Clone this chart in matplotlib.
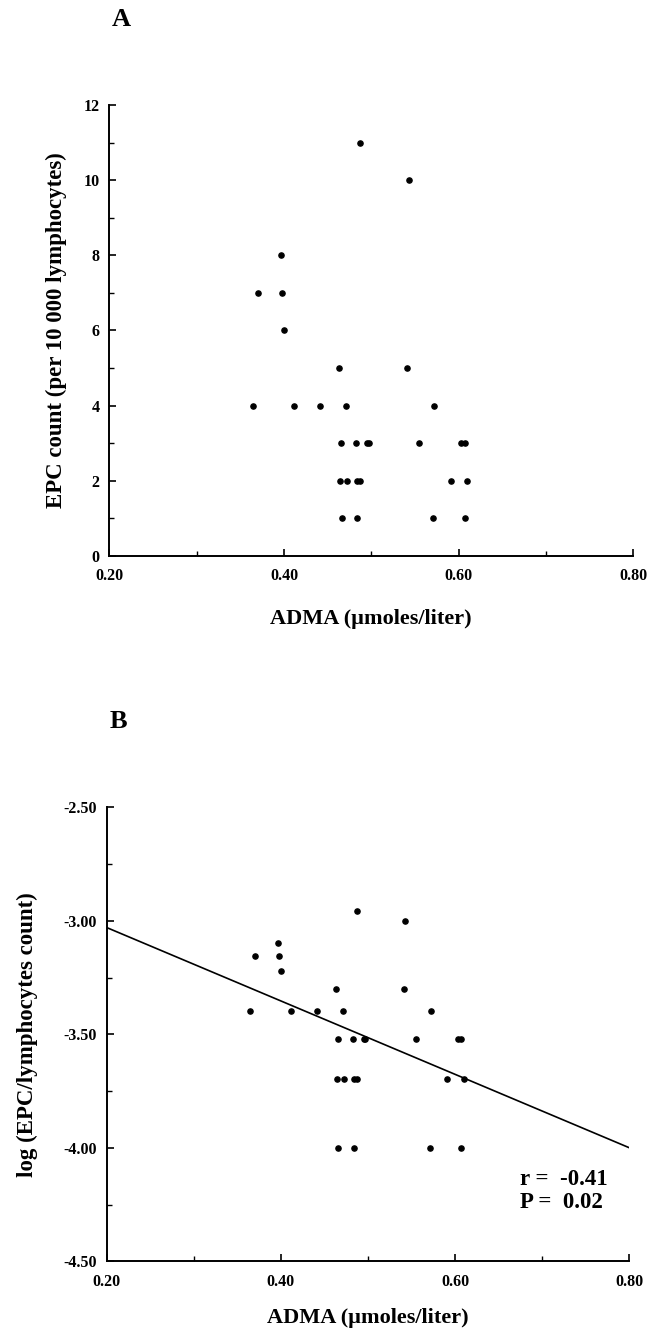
import numpy as np
import matplotlib
matplotlib.use('Agg')
import matplotlib.pyplot as plt
from matplotlib.ticker import MultipleLocator, FormatStrFormatter

plt.rcParams['font.family'] = ['Liberation Serif', 'DejaVu Serif']
plt.rcParams['font.weight'] = 'bold'
plt.rcParams['axes.unicode_minus'] = False

# ADMA (umoles/liter) and EPC count per 10 000 lymphocytes, one entry per patient
adma = [0.487, 0.543, 0.397, 0.370, 0.398, 0.400, 0.463, 0.541,
        0.364, 0.411, 0.441, 0.471, 0.572,
        0.465, 0.483, 0.495, 0.497, 0.555, 0.603, 0.607,
        0.464, 0.472, 0.484, 0.487, 0.591, 0.610,
        0.466, 0.484, 0.571, 0.607]
epc = [11, 10, 8, 7, 7, 6, 5, 5,
       4, 4, 4, 4, 4,
       3, 3, 3, 3, 3, 3, 3,
       2, 2, 2, 2, 2, 2,
       1, 1, 1, 1]

# regression line drawn in panel B
fit_x = [0.20, 0.80]
fit_y = [-3.03, -4.00]
stats_lines = ['r =  -0.41', 'P =  0.02']

adma = np.array(adma)
epc = np.array(epc, dtype=float)
log_epc = np.log10(epc / 10000.0)

fig = plt.figure(figsize=(6.58, 13.31), dpi=100)
axA = fig.add_axes([0.1661, 0.5823, 0.7964, 0.3388])
axB = fig.add_axes([0.1622, 0.0524, 0.7942, 0.3411])


def style(ax):
    for s in ['top', 'right']:
        ax.spines[s].set_visible(False)
    for s in ['left', 'bottom']:
        ax.spines[s].set_linewidth(1.4)
    ax.tick_params(which='major', direction='in', length=5, width=1.2,
                   labelsize=11.5)
    ax.tick_params(which='minor', direction='in', length=3.5, width=1.0)
    ax.tick_params(axis='x', which='major', pad=9)
    ax.tick_params(axis='y', which='major', pad=7)
    ax.xaxis.set_major_locator(MultipleLocator(0.2))
    ax.xaxis.set_minor_locator(MultipleLocator(0.1))
    ax.xaxis.set_major_formatter(FormatStrFormatter('%.2f'))
    ax.set_xlim(0.2, 0.8)


# Panel A
axA.scatter(adma, epc, s=14, color='black', zorder=3, clip_on=False)
style(axA)
axA.set_ylim(0, 12)
axA.yaxis.set_major_locator(MultipleLocator(2))
axA.yaxis.set_minor_locator(MultipleLocator(1))
axA.set_xlabel('ADMA (\u00b5moles/liter)', fontsize=16, fontweight='bold', va='top')
axA.xaxis.set_label_coords(0.5, -0.118)
axA.set_ylabel('EPC count (per 10 000 lymphocytes)', fontsize=16.5,
               fontweight='bold', va='center')
axA.yaxis.set_label_coords(-0.10, 0.5)

# Panel B
axB.scatter(adma, log_epc, s=14, color='black', zorder=3, clip_on=False)
axB.plot(fit_x, fit_y, color='black', lw=1.2)
style(axB)
axB.set_ylim(-4.5, -2.5)
axB.yaxis.set_major_locator(MultipleLocator(0.5))
axB.yaxis.set_minor_locator(MultipleLocator(0.25))
axB.yaxis.set_major_formatter(FormatStrFormatter('%.2f'))
axB.set_xlabel('ADMA (\u00b5moles/liter)', fontsize=16, fontweight='bold', va='top')
axB.xaxis.set_label_coords(0.5, -0.103)
axB.set_ylabel('log (EPC/lymphocytes count)', fontsize=16.5,
               fontweight='bold', va='center')
axB.yaxis.set_label_coords(-0.152, 0.5)

axB.text(0.675, -4.164, stats_lines[0], fontsize=16.5, fontweight='bold', va='baseline')
axB.text(0.675, -4.267, stats_lines[1], fontsize=16.5, fontweight='bold', va='baseline')

fig.text(0.1839, 0.9857, 'A', fontsize=19, fontweight='bold', ha='center', va='center')
fig.text(0.1800, 0.4583, 'B', fontsize=19, fontweight='bold', ha='center', va='center')

fig.savefig('out.png', dpi=100, facecolor='white')
